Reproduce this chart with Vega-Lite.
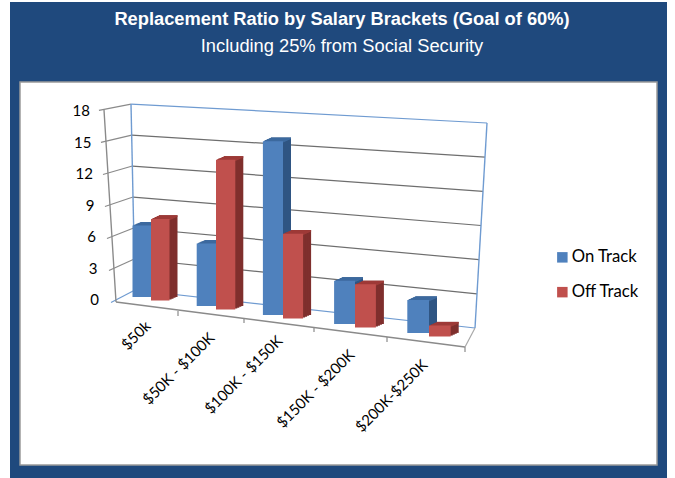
{"$schema":"https://vega.github.io/schema/vega-lite/v6.json","width":350,"height":189,"autosize":{"type":"none"},"padding":{"left":116,"top":111,"right":209,"bottom":178},"background":"#ffffff","config":{"view":{"stroke":null}},
"title":{"text":"Replacement Ratio by Salary Brackets (Goal of 60%)","subtitle":"Including 25% from Social Security","anchor":"middle","frame":"group","dx":51,"offset":-54,"font":"Liberation Sans","fontSize":18.3,"fontWeight":"bold","color":"#ffffff","subtitleFont":"Liberation Sans","subtitleFontSize":18.3,"subtitleColor":"#ffffff","subtitlePadding":8},
"data":{"values":[
{"bracket":"$50k","n":0,"series":"On Track","value":7},{"bracket":"$50k","n":0,"series":"Off Track","value":8},
{"bracket":"$50K - $100K","n":1,"series":"On Track","value":6},{"bracket":"$50K - $100K","n":1,"series":"Off Track","value":14.4},
{"bracket":"$100K - $150K","n":2,"series":"On Track","value":16.4},{"bracket":"$100K - $150K","n":2,"series":"Off Track","value":8},
{"bracket":"$150K - $200K","n":3,"series":"On Track","value":4},{"bracket":"$150K - $200K","n":3,"series":"Off Track","value":4},
{"bracket":"$200K-$250K","n":4,"series":"On Track","value":3},{"bracket":"$200K-$250K","n":4,"series":"Off Track","value":1}]},
"layer":[
{"data":{"values":[{"part":"frame"}]},"mark":{"type":"rect","color":"#1f497d"},"encoding":{"x":{"value":-106},"x2":{"value":551},"y":{"value":-109},"y2":{"value":367}}},
{"data":{"values":[{"part":"panel"}]},"mark":{"type":"rect","color":"#ffffff","stroke":"#9a9a9a","strokeWidth":1.5},"encoding":{"x":{"value":-96},"x2":{"value":541},"y":{"value":-29},"y2":{"value":354}}},
{"data":{"values":[{"tick":0},{"tick":3},{"tick":6},{"tick":9},{"tick":12},{"tick":15},{"tick":18}]},
"layer":[
{"mark":{"type":"rule","strokeWidth":1.2,"xOffset":{"expr":"19-.22*datum.tick"},"x2Offset":{"expr":"359+.67*datum.tick"},"yOffset":{"expr":"-10+.17*datum.tick"},"y2Offset":{"expr":"28-.89*datum.tick"},"color":{"expr":"datum.tick%18==0?'#6f9bd1':'#6e6e6e'"}},"encoding":{"x":{"value":0},"x2":{"value":0},"y":{"field":"tick","type":"quantitative","scale":{"domain":[0,18],"nice":false},"axis":null},"y2":{"field":"tick"}}},
{"mark":{"type":"rule","strokeWidth":1.2,"xOffset":{"expr":"-5-.67*datum.tick"},"x2Offset":{"expr":"19-.22*datum.tick"},"yOffset":{"expr":"2.5-.17*datum.tick"},"y2Offset":{"expr":"-10+.17*datum.tick"},"color":{"expr":"datum.tick==0?'#6f9bd1':'#8a8a8a'"}},"encoding":{"x":{"value":0},"x2":{"value":0},"y":{"field":"tick","type":"quantitative","axis":null},"y2":{"field":"tick"}}},
{"mark":{"type":"text","font":"Lato","fontSize":15,"color":"#000000","align":"right","baseline":"middle","xOffset":{"expr":"-17-datum.tick/2"}},"encoding":{"x":{"value":0},"y":{"field":"tick","type":"quantitative","axis":null},"text":{"field":"tick","type":"quantitative"}}}
]},
{"data":{"values":[{"edge":"frame"}]},"layer":[
{"mark":{"type":"rule","color":"#6f9bd1","strokeWidth":1.4},"encoding":{"x":{"value":15},"x2":{"value":19},"y":{"value":-7},"y2":{"value":179}}},
{"mark":{"type":"rule","color":"#6f9bd1","strokeWidth":1.4},"encoding":{"x":{"value":371},"x2":{"value":359},"y":{"value":12},"y2":{"value":217}}},
{"mark":{"type":"rule","color":"#8a8a8a","strokeWidth":1.4},"encoding":{"x":{"value":-12},"x2":{"value":0},"y":{"value":-1},"y2":{"value":191}}},
{"mark":{"type":"rule","color":"#8a8a8a","strokeWidth":1.4},"encoding":{"x":{"value":0},"x2":{"value":349},"y":{"value":191},"y2":{"value":236}}},
{"mark":{"type":"rule","color":"#a8a8a8","strokeWidth":1.2},"encoding":{"x":{"value":349},"x2":{"value":359},"y":{"value":236},"y2":{"value":217}}}
]},
{"transform":[{"filter":"datum.series=='On Track'"}],
"mark":{"type":"rule","color":"#8a8a8a","strokeWidth":1.2,"xOffset":{"expr":"[-8,-12,-12,-9,-1][datum.n]"},"x2Offset":{"expr":"[-8,-12,-12,-9,-1][datum.n]"},"yOffset":{"expr":"[11,18,27,37,47][datum.n]"},"y2Offset":{"expr":"[16,23,32,42,52][datum.n]"}},
"encoding":{"x":{"field":"bracket","type":"nominal","bandPosition":1,"sort":null},"y":{"datum":0,"type":"quantitative","axis":null},"y2":{"datum":0}}},
{"encoding":{"x":{"field":"bracket","type":"nominal","sort":null,"scale":{"domain":["$50k","$50K - $100K","$100K - $150K","$150K - $200K","$200K-$250K"],"paddingInner":0,"paddingOuter":0},
"axis":{"title":null,"labelAngle":-45,"labelAlign":"right","labelBaseline":"middle","domain":false,"ticks":false,"zindex":1,"labelFont":"Lato","labelFontSize":15,"labelColor":"#000000","labelOverlap":false,"labelBound":false,"labelFlush":false,
"labelOffset":{"expr":"[-3,-9,-11,-9,-6][indexof(['$50k','$50K - $100K','$100K - $150K','$150K - $200K','$200K-$250K'],datum.value)]"},
"labelPadding":{"expr":"[23,35,38,52,62][indexof(['$50k','$50K - $100K','$100K - $150K','$150K - $200K','$200K-$250K'],datum.value)]"}}},
"y":{"field":"value","type":"quantitative","scale":{"domain":[0,18],"nice":false},"stack":null,"axis":null}},
"layer":[
{"mark":{"type":"bar","color":{"expr":"datum.series=='Off Track'?'#7f2f2d':'#2f5583'"},"width":{"expr":"18.5+.8*datum.n"},"xOffset":{"expr":"8+[0,-5,-8,-6,-2][datum.n]+(datum.series=='Off Track'?1:-1)*(18.5+.8*datum.n)/2"},"yOffset":{"expr":"-3.6+9*datum.n-3+(datum.series=='Off Track'?3.5:0)+(.3-.2*datum.n)*datum.value"},"y2Offset":{"expr":"-3.6+9*datum.n-3+(datum.series=='Off Track'?3.5:0)"}},"encoding":{"y2":{"datum":0}}},
{"mark":{"type":"bar","color":{"expr":"datum.series=='Off Track'?'#7f2f2d':'#2f5583'"},"width":{"expr":"18.5+.8*datum.n"},"xOffset":{"expr":"6+[0,-5,-8,-6,-2][datum.n]+(datum.series=='Off Track'?1:-1)*(18.5+.8*datum.n)/2"},"yOffset":{"expr":"-2.7+9*datum.n-3+(datum.series=='Off Track'?3.5:0)+(.3-.2*datum.n)*datum.value"},"y2Offset":{"expr":"-2.7+9*datum.n-3+(datum.series=='Off Track'?3.5:0)"}},"encoding":{"y2":{"datum":0}}},
{"mark":{"type":"bar","color":{"expr":"datum.series=='Off Track'?'#7f2f2d':'#2f5583'"},"width":{"expr":"18.5+.8*datum.n"},"xOffset":{"expr":"4+[0,-5,-8,-6,-2][datum.n]+(datum.series=='Off Track'?1:-1)*(18.5+.8*datum.n)/2"},"yOffset":{"expr":"-1.8+9*datum.n-3+(datum.series=='Off Track'?3.5:0)+(.3-.2*datum.n)*datum.value"},"y2Offset":{"expr":"-1.8+9*datum.n-3+(datum.series=='Off Track'?3.5:0)"}},"encoding":{"y2":{"datum":0}}},
{"mark":{"type":"bar","color":{"expr":"datum.series=='Off Track'?'#7f2f2d':'#2f5583'"},"width":{"expr":"18.5+.8*datum.n"},"xOffset":{"expr":"2+[0,-5,-8,-6,-2][datum.n]+(datum.series=='Off Track'?1:-1)*(18.5+.8*datum.n)/2"},"yOffset":{"expr":"-.9+9*datum.n-3+(datum.series=='Off Track'?3.5:0)+(.3-.2*datum.n)*datum.value"},"y2Offset":{"expr":"-.9+9*datum.n-3+(datum.series=='Off Track'?3.5:0)"}},"encoding":{"y2":{"datum":0}}},
{"mark":{"type":"bar","color":{"expr":"datum.series=='Off Track'?'#9e3b38':'#3d6a9f'"},"width":{"expr":"18.5+.8*datum.n"},"xOffset":{"expr":"8+[0,-5,-8,-6,-2][datum.n]+(datum.series=='Off Track'?1:-1)*(18.5+.8*datum.n)/2"},"yOffset":{"expr":"-3.6+9*datum.n-3+(datum.series=='Off Track'?3.5:0)+(.3-.2*datum.n)*datum.value"},"y2Offset":{"expr":"-2+9*datum.n-3+(datum.series=='Off Track'?3.5:0)+(.3-.2*datum.n)*datum.value"}},"encoding":{"y2":{"field":"value"}}},
{"mark":{"type":"bar","color":{"expr":"datum.series=='Off Track'?'#9e3b38':'#3d6a9f'"},"width":{"expr":"18.5+.8*datum.n"},"xOffset":{"expr":"7+[0,-5,-8,-6,-2][datum.n]+(datum.series=='Off Track'?1:-1)*(18.5+.8*datum.n)/2"},"yOffset":{"expr":"-3.15+9*datum.n-3+(datum.series=='Off Track'?3.5:0)+(.3-.2*datum.n)*datum.value"},"y2Offset":{"expr":"-1.55+9*datum.n-3+(datum.series=='Off Track'?3.5:0)+(.3-.2*datum.n)*datum.value"}},"encoding":{"y2":{"field":"value"}}},
{"mark":{"type":"bar","color":{"expr":"datum.series=='Off Track'?'#9e3b38':'#3d6a9f'"},"width":{"expr":"18.5+.8*datum.n"},"xOffset":{"expr":"6+[0,-5,-8,-6,-2][datum.n]+(datum.series=='Off Track'?1:-1)*(18.5+.8*datum.n)/2"},"yOffset":{"expr":"-2.7+9*datum.n-3+(datum.series=='Off Track'?3.5:0)+(.3-.2*datum.n)*datum.value"},"y2Offset":{"expr":"-1.1+9*datum.n-3+(datum.series=='Off Track'?3.5:0)+(.3-.2*datum.n)*datum.value"}},"encoding":{"y2":{"field":"value"}}},
{"mark":{"type":"bar","color":{"expr":"datum.series=='Off Track'?'#9e3b38':'#3d6a9f'"},"width":{"expr":"18.5+.8*datum.n"},"xOffset":{"expr":"5+[0,-5,-8,-6,-2][datum.n]+(datum.series=='Off Track'?1:-1)*(18.5+.8*datum.n)/2"},"yOffset":{"expr":"-2.25+9*datum.n-3+(datum.series=='Off Track'?3.5:0)+(.3-.2*datum.n)*datum.value"},"y2Offset":{"expr":"-.65+9*datum.n-3+(datum.series=='Off Track'?3.5:0)+(.3-.2*datum.n)*datum.value"}},"encoding":{"y2":{"field":"value"}}},
{"mark":{"type":"bar","color":{"expr":"datum.series=='Off Track'?'#9e3b38':'#3d6a9f'"},"width":{"expr":"18.5+.8*datum.n"},"xOffset":{"expr":"4+[0,-5,-8,-6,-2][datum.n]+(datum.series=='Off Track'?1:-1)*(18.5+.8*datum.n)/2"},"yOffset":{"expr":"-1.8+9*datum.n-3+(datum.series=='Off Track'?3.5:0)+(.3-.2*datum.n)*datum.value"},"y2Offset":{"expr":"-.2+9*datum.n-3+(datum.series=='Off Track'?3.5:0)+(.3-.2*datum.n)*datum.value"}},"encoding":{"y2":{"field":"value"}}},
{"mark":{"type":"bar","color":{"expr":"datum.series=='Off Track'?'#9e3b38':'#3d6a9f'"},"width":{"expr":"18.5+.8*datum.n"},"xOffset":{"expr":"3+[0,-5,-8,-6,-2][datum.n]+(datum.series=='Off Track'?1:-1)*(18.5+.8*datum.n)/2"},"yOffset":{"expr":"-1.35+9*datum.n-3+(datum.series=='Off Track'?3.5:0)+(.3-.2*datum.n)*datum.value"},"y2Offset":{"expr":".25+9*datum.n-3+(datum.series=='Off Track'?3.5:0)+(.3-.2*datum.n)*datum.value"}},"encoding":{"y2":{"field":"value"}}},
{"mark":{"type":"bar","color":{"expr":"datum.series=='Off Track'?'#9e3b38':'#3d6a9f'"},"width":{"expr":"18.5+.8*datum.n"},"xOffset":{"expr":"2+[0,-5,-8,-6,-2][datum.n]+(datum.series=='Off Track'?1:-1)*(18.5+.8*datum.n)/2"},"yOffset":{"expr":"-.9+9*datum.n-3+(datum.series=='Off Track'?3.5:0)+(.3-.2*datum.n)*datum.value"},"y2Offset":{"expr":".7+9*datum.n-3+(datum.series=='Off Track'?3.5:0)+(.3-.2*datum.n)*datum.value"}},"encoding":{"y2":{"field":"value"}}},
{"mark":{"type":"bar","color":{"expr":"datum.series=='Off Track'?'#9e3b38':'#3d6a9f'"},"width":{"expr":"18.5+.8*datum.n"},"xOffset":{"expr":"1+[0,-5,-8,-6,-2][datum.n]+(datum.series=='Off Track'?1:-1)*(18.5+.8*datum.n)/2"},"yOffset":{"expr":"-.45+9*datum.n-3+(datum.series=='Off Track'?3.5:0)+(.3-.2*datum.n)*datum.value"},"y2Offset":{"expr":"1.15+9*datum.n-3+(datum.series=='Off Track'?3.5:0)+(.3-.2*datum.n)*datum.value"}},"encoding":{"y2":{"field":"value"}}},
{"mark":{"type":"bar","width":{"expr":"18.5+.8*datum.n"},"xOffset":{"expr":"[0,-5,-8,-6,-2][datum.n]+(datum.series=='Off Track'?1:-1)*(18.5+.8*datum.n)/2"},"yOffset":{"expr":"9*datum.n-3+(datum.series=='Off Track'?3.5:0)+(.3-.2*datum.n)*datum.value"},"y2Offset":{"expr":"9*datum.n-3+(datum.series=='Off Track'?3.5:0)"}},
"encoding":{"y2":{"datum":0},"color":{"field":"series","type":"nominal","scale":{"domain":["On Track","Off Track"],"range":["#4f81bd","#c0504d"]},
"legend":{"title":null,"orient":"none","legendX":438,"legendY":138,"symbolType":"square","symbolSize":110,"symbolStrokeWidth":0,"labelFont":"Lato","labelFontSize":16.7,"labelColor":"#000000","rowPadding":16.8,"labelOffset":1}}}}
]}
]}
